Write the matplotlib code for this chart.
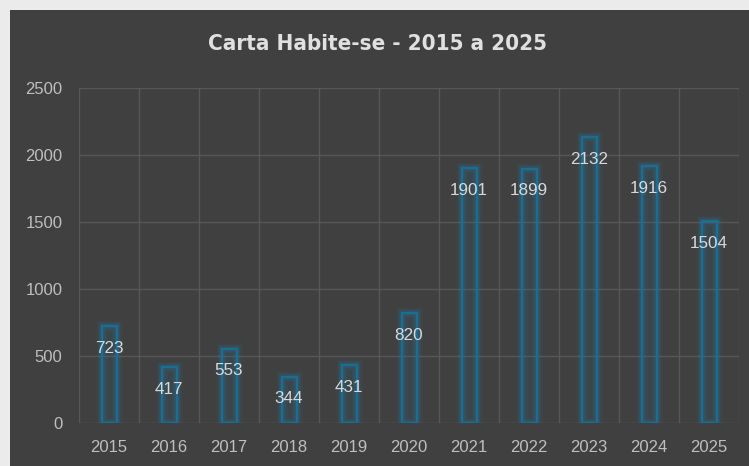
import matplotlib
matplotlib.use("Agg")
import matplotlib.pyplot as plt
from matplotlib.patches import Rectangle
from matplotlib import font_manager
import numpy as np

years = ["2015", "2016", "2017", "2018", "2019", "2020", "2021", "2022", "2023", "2024", "2025"]
values = [723, 417, 553, 344, 431, 820, 1901, 1899, 2132, 1916, 1504]
yticks = [0, 500, 1000, 1500, 2000, 2500]
title = "Carta Habite-se - 2015 a 2025"

W, H = 749, 466
fig = plt.figure(figsize=(W / 100, H / 100), dpi=100)
fig.patch.set_facecolor("#ebebeb")
fig.add_artist(Rectangle((10 / W, 0), 1, (H - 10) / H, transform=fig.transFigure,
                         facecolor="#404040", edgecolor="none", zorder=0))

ax = fig.add_axes([79 / W, (H - 423) / H, (739 - 79) / W, (423 - 88) / H])
ax.set_facecolor("none")
ax.set_zorder(1)

x = np.arange(len(years))
bw = 0.25
blue = "#1a6e96"
for lw, a in [(8, 0.05), (6, 0.08), (4, 0.12)]:
    ax.bar(x, values, width=bw, facecolor="none", edgecolor="#1b8fc4", linewidth=lw,
           alpha=a, zorder=2)
ax.bar(x, values, width=bw, facecolor="#1b6f96", alpha=0.12, edgecolor="none", zorder=2)
ax.bar(x, values, width=bw, facecolor="none", edgecolor=blue, linewidth=1.6, zorder=3)

sans = ["Liberation Sans", "DejaVu Sans"]
for xi, v in zip(x, values):
    ax.annotate(str(v), (xi, v), xytext=(0, -22), textcoords="offset pixels",
                ha="center", va="center", fontsize=12.3, color="#d9d9d9",
                family=sans, zorder=4)

ax.set_xlim(-0.5, len(years) - 0.5)
ax.set_ylim(0, 2500)
ax.set_yticks(yticks)
ax.set_yticklabels([str(t) for t in yticks])
ax.set_xticks(x)
ax.set_xticklabels(years)
ax.set_xticks(np.arange(-0.5, len(years), 1.0), minor=True)
ax.tick_params(axis="both", which="both", length=0)
ax.tick_params(axis="y", pad=12, labelsize=12, labelcolor="#bfbfbf")
ax.tick_params(axis="x", pad=12, labelsize=12, labelcolor="#bfbfbf")
for lab in ax.get_xticklabels() + ax.get_yticklabels():
    lab.set_family(sans)

ax.grid(True, axis="y", which="major", color="#575757", linewidth=1.0)
ax.grid(True, axis="x", which="minor", color="#575757", linewidth=1.0)
ax.grid(False, axis="x", which="major")
ax.set_axisbelow(True)
for s in ax.spines.values():
    s.set_visible(False)

# prefer a condensed bold face if one is installed
cond = None
for f in font_manager.fontManager.ttflist:
    n = f.name.lower()
    if ("condensed" in n or "narrow" in n or f.stretch in ("condensed", "semi-condensed")) and f.weight in (600, 700, "bold", "semibold"):
        cond = f.name
        break
tfam = [cond, "Liberation Sans", "DejaVu Sans"] if cond else ["Liberation Sans", "DejaVu Sans"]
fig.text(377 / W, (H - 44) / H, title, ha="center", va="center",
         fontsize=16 if cond else 15.5,
         fontweight="bold", fontstretch="condensed", color="#e0e0e0", family=tfam)

fig.savefig("out.png", dpi=100, facecolor=fig.get_facecolor())
